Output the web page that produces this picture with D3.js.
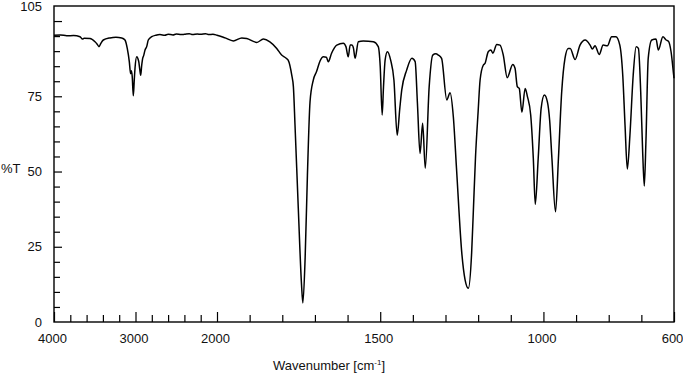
<!DOCTYPE html>
<html>
<head>
<meta charset="utf-8">
<script src="https://cdn.jsdelivr.net/npm/d3@7"></script>
<style>
  body { margin: 0; background: #fff; }
  svg { display: block; font-family: "Liberation Sans", Arial, sans-serif; }
</style>
</head>
<body>
<svg id="chart" width="683" height="376"></svg>
<script>
// wavenumber (cm-1) from left to right
const wavenumbers = [
  4000, 3920, 3845, 3760, 3681, 3650, 3630, 3558, 3497, 3470, 3448, 3425, 3395, 3313, 3240,
  3169, 3129, 3101, 3076, 3060, 3050, 3040, 3027, 3015, 3006, 2985, 2970, 2960, 2948, 2936,
  2925, 2912, 2900, 2883, 2863, 2843, 2801, 2750, 2700, 2640, 2600, 2540, 2500, 2440, 2400,
  2340, 2300, 2240, 2200, 2140, 2100, 2050, 2000, 1975, 1950, 1924, 1909, 1878, 1858, 1838,
  1817, 1802, 1790, 1782, 1771, 1766, 1761, 1751, 1741, 1737, 1730, 1723, 1715, 1705, 1695,
  1684, 1674, 1665, 1659, 1649, 1633, 1613, 1605, 1598, 1592, 1587, 1582, 1577, 1567, 1552,
  1521, 1506, 1500, 1494, 1490, 1485, 1478, 1468, 1458, 1448, 1440, 1434, 1419, 1403, 1393,
  1386, 1378, 1370, 1362, 1350, 1339, 1330, 1322, 1312, 1296, 1286, 1276, 1266, 1250, 1240,
  1230, 1220, 1215, 1208, 1200, 1194, 1184, 1179, 1169, 1161, 1155, 1143, 1133, 1123, 1111,
  1094, 1087, 1080, 1074, 1066, 1056, 1049, 1039, 1031, 1025, 1016, 1007, 997, 988, 981,
  974, 963, 954, 944, 934, 924, 918, 903, 888, 872, 857, 850, 842, 829, 817,
  804, 791, 778, 766, 757, 750, 743, 735, 725, 716, 709, 702, 696, 691, 686,
  679, 668, 655, 648, 634, 624, 617, 609, 601, 600
];
// %T at each wavenumber
const transmittance = [
  95.3, 95.4, 95.1, 95.2, 94.8, 94.0, 94.3, 94.2, 93.1, 92.3, 91.5, 92.6, 93.7, 94.4, 94.6,
  94.4, 93.7, 90.9, 86.5, 82.5, 83.5, 81.5, 75.2, 80.5, 84.3, 88.1, 87.5, 86.5, 84.0, 82.0,
  85.0, 87.6, 88.5, 90.4, 91.5, 93.7, 94.8, 95.3, 95.5, 95.3, 95.6, 95.4, 95.7, 95.5, 95.6,
  95.8, 95.5, 95.7, 95.6, 95.8, 95.5, 95.6, 95.3, 94.4, 93.4, 94.4, 94.2, 92.9, 94.0, 93.1,
  90.9, 88.7, 87.8, 87.0, 82.0, 78.2, 65.4, 37.9, 12.3, 6.3, 21.3, 48.8, 73.2, 80.4, 83.2,
  86.8, 88.1, 88.0, 86.5, 89.3, 92.0, 92.6, 91.5, 88.1, 92.0, 92.0, 91.0, 87.6, 93.1, 93.4,
  93.1, 91.5, 85.0, 68.8, 78.0, 87.0, 89.8, 87.0, 80.4, 62.1, 71.0, 77.1, 83.7, 87.6, 86.5,
  72.7, 56.0, 66.0, 51.1, 78.2, 88.7, 89.1, 88.7, 87.6, 73.8, 76.2, 68.2, 50.5, 22.8, 14.0,
  11.2, 22.8, 36.0, 55.0, 70.0, 80.4, 85.4, 85.9, 89.8, 90.4, 89.3, 92.2, 92.0, 88.7, 81.2,
  85.6, 84.3, 78.2, 77.6, 69.7, 77.6, 74.9, 68.8, 54.4, 39.1, 54.4, 71.0, 75.4, 73.2, 67.1,
  54.4, 36.6, 54.4, 76.5, 87.6, 90.9, 90.9, 87.2, 92.0, 93.7, 92.0, 90.7, 91.8, 88.9, 92.0,
  91.8, 94.8, 94.8, 92.0, 82.0, 65.4, 50.8, 62.1, 82.0, 91.5, 90.9, 76.5, 56.6, 45.2, 59.9,
  87.6, 93.7, 94.0, 90.4, 94.8, 93.7, 93.3, 89.8, 82.0, 81.0
];

// tick values
const xMajorTicks = [4000, 3000, 2000, 1500, 1000, 600];
const xMinorTicks = [3800, 3600, 3400, 3200, 2800, 2600, 2400, 2200,
                     1900, 1800, 1700, 1600, 1400, 1300, 1200, 1100, 900, 800, 700];
const yLabels = [0, 25, 50, 75, 105];
const yMajorTicks = [25, 50, 75, 100];
const yMinorTicks = [5, 10, 15, 20, 30, 35, 40, 45, 55, 60, 65, 70, 80, 85, 90, 95];

const svg = d3.select("#chart");
const plot = { left: 54, right: 674, top: 6, bottom: 322 };

// the x axis is expanded 4x below 2000 cm-1
const x = d3.scaleLinear().domain([4000, 2000, 600]).range([plot.left, 217, plot.right]);
const y = d3.scaleLinear().domain([0, 105]).range([plot.bottom, plot.top]);

const spectrum = wavenumbers.map((w, i) => ({ w: w, t: transmittance[i] }));

function styleAxis(g) {
  g.select(".domain").remove();
  g.selectAll("line").attr("stroke", "#000").attr("stroke-width", 1.2);
  g.selectAll("text").attr("fill", "#111").attr("font-size", 13)
    .attr("font-family", "'Liberation Sans', Arial, sans-serif");
}

// x ticks (pointing inward)
svg.append("g")
    .attr("transform", "translate(0," + plot.bottom + ")")
    .call(d3.axisBottom(x).tickValues(xMinorTicks).tickSize(-7).tickFormat(""))
    .call(styleAxis);

svg.append("g")
    .attr("transform", "translate(0," + plot.bottom + ")")
    .call(d3.axisBottom(x).tickValues(xMajorTicks).tickSize(-10).tickPadding(12).tickFormat(d3.format("d")))
    .call(styleAxis)
    .selectAll("text").attr("dx", -2);

// y ticks
svg.append("g")
    .attr("transform", "translate(" + plot.left + ",0)")
    .call(d3.axisLeft(y).tickValues(yMinorTicks).tickSize(-6).tickFormat(""))
    .call(styleAxis);

svg.append("g")
    .attr("transform", "translate(" + plot.left + ",0)")
    .call(d3.axisLeft(y).tickValues(yMajorTicks).tickSize(-8).tickFormat(""))
    .call(styleAxis);

svg.append("g")
    .attr("transform", "translate(" + plot.left + ",0)")
    .call(d3.axisLeft(y).tickValues(yLabels).tickSize(0).tickPadding(12).tickFormat(d3.format("d")))
    .call(styleAxis);

// frame
svg.append("rect")
    .attr("x", plot.left).attr("y", plot.top)
    .attr("width", plot.right - plot.left).attr("height", plot.bottom - plot.top)
    .attr("fill", "none").attr("stroke", "#000").attr("stroke-width", 1.4);

// spectrum line
const line = d3.line()
    .x(d => x(d.w))
    .y(d => y(d.t))
    .curve(d3.curveMonotoneX);

svg.append("path")
    .datum(spectrum)
    .attr("fill", "none")
    .attr("stroke", "#000")
    .attr("stroke-width", 1.5)
    .attr("stroke-linejoin", "round")
    .attr("d", line);

// axis titles
svg.append("text")
    .attr("x", 1).attr("y", 173)
    .attr("font-size", 13).attr("fill", "#111")
    .text("%T");

const xt = svg.append("text")
    .attr("x", 329).attr("y", 370)
    .attr("text-anchor", "middle")
    .attr("font-size", 13).attr("fill", "#111");
xt.append("tspan").text("Wavenumber [cm");
xt.append("tspan").attr("font-size", 8).attr("dy", -5).text("-1");
xt.append("tspan").attr("dy", 5).text("]");
</script>
</body>
</html>
